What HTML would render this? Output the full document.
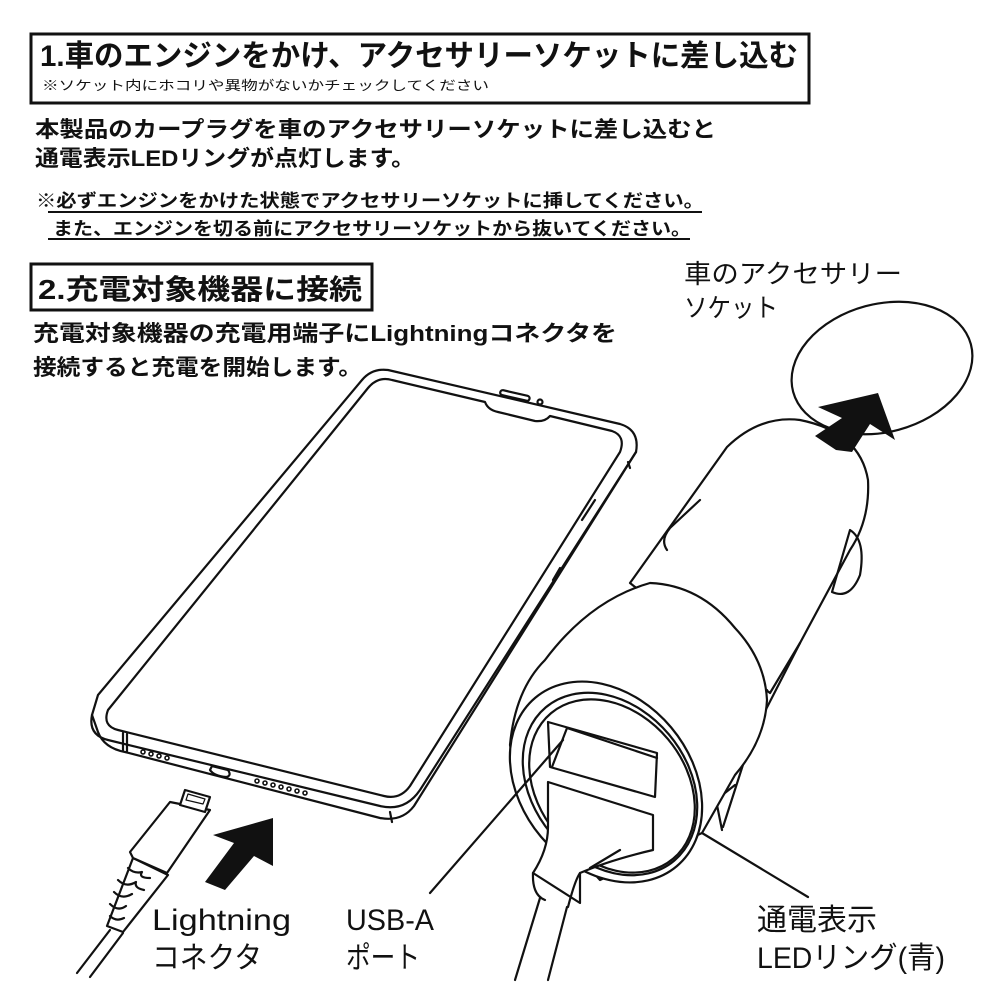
<!DOCTYPE html>
<html><head><meta charset="utf-8"><style>
html,body{margin:0;padding:0;background:#fff;}
svg{display:block;}
text{font-family:"Liberation Sans","Noto Sans CJK JP",sans-serif;fill:#111;}
.b{font-weight:bold;}
</style></head><body>
<svg width="1000" height="1000" viewBox="0 0 1000 1000" xmlns="http://www.w3.org/2000/svg">
<rect x="31" y="34" width="778" height="69" fill="none" stroke="#111" stroke-width="3"/>
<text class="b" x="40" y="66" font-size="30" textLength="758" lengthAdjust="spacingAndGlyphs">1.車のエンジンをかけ、アクセサリーソケットに差し込む</text>
<text x="42" y="90" font-size="13" textLength="447" lengthAdjust="spacingAndGlyphs">※ソケット内にホコリや異物がないかチェックしてください</text>
<text class="b" x="35" y="137" font-size="22" textLength="681" lengthAdjust="spacingAndGlyphs">本製品のカープラグを車のアクセサリーソケットに差し込むと</text>
<text class="b" x="35" y="166" font-size="22" textLength="380" lengthAdjust="spacingAndGlyphs">通電表示LEDリングが点灯します。</text>
<text class="b" x="36" y="207" font-size="18" textLength="668" lengthAdjust="spacingAndGlyphs">※必ずエンジンをかけた状態でアクセサリーソケットに挿してください。</text>
<line x1="48" y1="212" x2="702" y2="212" stroke="#111" stroke-width="2"/>
<text class="b" x="53" y="235" font-size="18" textLength="638" lengthAdjust="spacingAndGlyphs">また、エンジンを切る前にアクセサリーソケットから抜いてください。</text>
<line x1="48" y1="239" x2="690" y2="239" stroke="#111" stroke-width="2"/>

<rect x="31" y="264" width="341" height="46" fill="none" stroke="#111" stroke-width="3"/>
<text class="b" x="38" y="299" font-size="28" textLength="324" lengthAdjust="spacingAndGlyphs">2.充電対象機器に接続</text>
<text class="b" x="33" y="341" font-size="22" textLength="584" lengthAdjust="spacingAndGlyphs">充電対象機器の充電用端子にLightningコネクタを</text>
<text class="b" x="33" y="375" font-size="22" textLength="329" lengthAdjust="spacingAndGlyphs">接続すると充電を開始します。</text>

<text x="684" y="283" font-size="26" textLength="218" lengthAdjust="spacingAndGlyphs">車のアクセサリー</text>
<text x="684" y="317" font-size="26" textLength="94" lengthAdjust="spacingAndGlyphs">ソケット</text>
<text x="152" y="930" font-size="30" textLength="139" lengthAdjust="spacingAndGlyphs">Lightning</text>
<text x="152" y="968" font-size="30" textLength="110" lengthAdjust="spacingAndGlyphs">コネクタ</text>
<text x="346" y="930" font-size="30" textLength="88" lengthAdjust="spacingAndGlyphs">USB-A</text>
<text x="346" y="968" font-size="30" textLength="74" lengthAdjust="spacingAndGlyphs">ポート</text>
<text x="757" y="930" font-size="30" textLength="120" lengthAdjust="spacingAndGlyphs">通電表示</text>
<text x="757" y="968" font-size="30" textLength="188" lengthAdjust="spacingAndGlyphs">LEDリング(青)</text>

<g fill="none" stroke="#111" stroke-width="2.2" stroke-linejoin="round" stroke-linecap="round">
<!-- phone -->
<path d="M388,370 L620,424 Q640,430 636,452 L420,790 Q405,812 380,806 L108,740 Q88,735 92,715 L98,695 L362,380 Q372,368 388,370 Z" fill="#fff"/>
<path d="M92,715 L98,732 Q104,748 125,752 L380,818 Q402,822 414,806 L636,452"/>
<path d="M392,380 L485,402 Q488,410 498,412 L535,421 Q545,422 550,416 L612,431 Q626,436 620,452 L410,786 Q400,800 384,796 L118,730 Q102,726 108,710 L368,388 Q378,376 392,380 Z"/>
<rect x="500" y="393" width="30" height="5" rx="2.5" transform="rotate(13 515 395)"/>
<circle cx="540" cy="402" r="2.5"/>
<path d="M210,770 Q214,776 226,777 Q232,776 228,770 L212,766 Z"/>
<path d="M123,733 L123,750 M127,734 L127,751 M390,812 L392,822 M628,462 L630,468"/>
<path d="M582,520 L595,500 M553,580 L560,568"/>
<g stroke-width="1.6"><circle cx="143" cy="752" r="2"/><circle cx="151" cy="754" r="2"/><circle cx="159" cy="756" r="2"/><circle cx="167" cy="758" r="2"/>
<circle cx="257" cy="781" r="2"/><circle cx="265" cy="783" r="2"/><circle cx="273" cy="785" r="2"/><circle cx="281" cy="787" r="2"/><circle cx="289" cy="789" r="2"/><circle cx="297" cy="791" r="2"/><circle cx="305" cy="793" r="2"/></g>
<!-- lightning cable -->
<path d="M110,930 L77,973 M123,933 L90,977"/>
<path d="M133,858 L168,875 L123,932 L107,926 Z" fill="#fff"/>
<path d="M118,880 q8,8 18,2 q-2,6 8,8 M114,892 q8,8 18,2 M110,904 q8,8 16,2 M110,916 q6,6 14,2 M128,868 q6,6 14,4 q-4,6 8,6"/>
<path d="M170,802 L210,810 L167,873 L133,858 L130,852 Z" fill="#fff"/>
<path d="M185,790 L210,797 L205,812 L180,805 Z" fill="#fff"/>
<path d="M188,794 L205,799 L203,804 L186,800 Z" stroke-width="1.2"/>
<!-- ring -->
<ellipse cx="882" cy="368" rx="92" ry="64" transform="rotate(-15 882 368)"/>
<!-- charger back body -->
<path d="M727,447 Q760,415 800,420 Q860,432 868,480 Q870,520 850,550 L800,643 L770,693 L630,583 Z" fill="#fff"/>
<path d="M700,500 L670,528 Q660,540 667,550"/>
<path d="M850,530 Q866,540 860,575 Q850,600 832,592 Z"/>
<path d="M767,690 L723,827 M800,643 L740,760 M735,785 L716,800 L722,830"/>
<!-- head collar -->
<path d="M510,745 Q515,690 545,660 Q590,600 650,583 Q700,585 735,628 Q765,660 767,700 Q765,740 735,775 L702,833 L600,880 L520,790 Z" fill="#fff"/>
<!-- face -->
<ellipse cx="606" cy="782" rx="110" ry="85" transform="rotate(50 606 782)" fill="#fff"/>
<ellipse cx="610" cy="784" rx="100" ry="77" transform="rotate(50 610 784)"/>
<ellipse cx="612" cy="786" rx="95" ry="73" transform="rotate(50 612 786)"/>
<!-- usb port -->
<path d="M548,722 L657,753 L655,797 L550,767 Z" fill="#fff"/>
<path d="M567,728 L657,758 M552,767 L567,728"/>
<!-- plug -->
<path d="M548,782 L653,815 L653,850 Q610,860 580,873 L580,903 L533,873 Q548,850 548,827 Z" fill="#fff"/>
<path d="M533,873 Q532,895 545,900 M580,873 Q575,880 568,907 M590,868 L620,850"/>
<path d="M540,898 L515,980 M567,907 L548,980"/>
<!-- leader lines -->
<path d="M563,740 L430,893"/>
<path d="M702,833 L808,897"/>
</g>
<!-- arrows -->
<path d="M836,450 L815,436 L842,418 L818,407 L878,393 L895,440 L870,424 L852,452 Z" fill="#111"/>
<path d="M205,882 L234,843 L213,835 L273,818 L273,866 L254,856 L225,890 Z" fill="#111"/>
</svg>
</body></html>
